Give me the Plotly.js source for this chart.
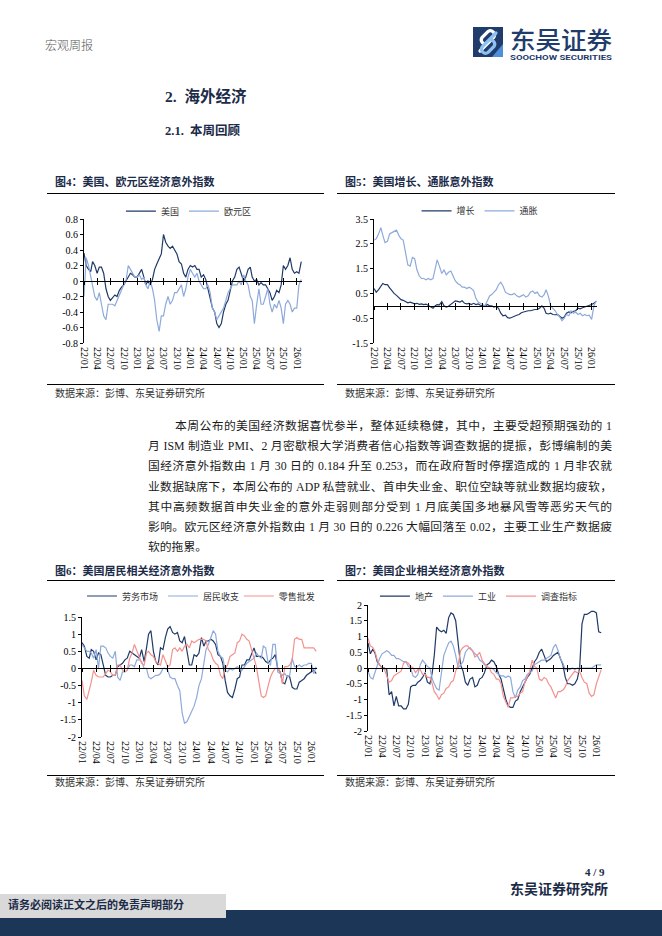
<!DOCTYPE html>
<html><head><meta charset="utf-8">
<script src="https://cdn.plot.ly/plotly-3.0.1.min.js"></script>
<style>
html,body{margin:0;padding:0;background:#fff;}
body{width:662px;height:936px;position:relative;overflow:hidden;font-family:"Liberation Serif","Noto Sans CJK SC",serif;color:#222;}
.t{position:absolute;white-space:nowrap;line-height:1;}
.cjk{font-family:"Liberation Serif","Noto Sans CJK SC",sans-serif;}
.hl{position:absolute;height:1px;background:#000;}
.chart{position:absolute;}
.para{position:absolute;white-space:nowrap;line-height:1;font-size:11.8px;text-align:justify;text-align-last:justify;color:#1a1a1a;font-family:"Liberation Serif","Noto Sans CJK SC",serif;}
</style></head><body>

<!-- header -->
<div class="t" style="left:45px;top:39px;font-size:12px;color:#555;font-family:'Noto Sans CJK SC';font-weight:300;">宏观周报</div>
<svg style="position:absolute;left:470px;top:22px" width="150" height="42" viewBox="0 0 150 42">
  <rect x="3" y="5" width="30" height="30" fill="#1f3c6d"/>
  <path d="M33 5 L33 35 L22 35 L33 22 Z" fill="#4f8fd8"/>
  <path d="M10 29 L20 19 M16 23 L24 15 A4.2 4.2 0 0 0 18 9.5 L12 15.5 A4.2 4.2 0 0 0 17.5 21.5" stroke="#fff" stroke-width="3.2" fill="none" stroke-linecap="round"/>
  <path d="M26 11 L16 21 M20 17 L12 25 A4.2 4.2 0 0 0 18 30.5 L24 24.5 A4.2 4.2 0 0 0 18.5 18.5" stroke="#8fc1f0" stroke-width="3.2" fill="none" stroke-linecap="round"/>
  <text x="40" y="26.5" font-size="24" textLength="102" lengthAdjust="spacingAndGlyphs" fill="#1f3c6d" font-family="Noto Sans CJK SC" font-weight="500">东吴证券</text>
  <text x="40" y="38" font-size="7" textLength="102" lengthAdjust="spacingAndGlyphs" fill="#1f3c6d" font-family="Roboto" font-weight="bold">SOOCHOW SECURITIES</text>
</svg>

<!-- section headings -->
<div class="t cjk" style="left:165px;top:89px;font-size:15.5px;font-weight:bold;color:#1b2b48;">2.&nbsp;&nbsp;海外经济</div>
<div class="t cjk" style="left:165px;top:125px;font-size:12.5px;font-weight:bold;color:#1b2b48;">2.1.&nbsp;&nbsp;本周回顾</div>

<!-- figure 4 / 5 titles -->
<div class="t cjk" style="left:55px;top:177px;font-size:11px;font-weight:bold;color:#1b2b48;">图4：美国、欧元区经济意外指数</div>
<div class="t cjk" style="left:345px;top:177px;font-size:11px;font-weight:bold;color:#1b2b48;">图5：美国增长、通胀意外指数</div>
<div class="hl" style="left:47px;top:193px;width:277px;"></div>
<div class="hl" style="left:337px;top:193px;width:278px;"></div>

<div id="c1" class="chart" style="left:45px;top:198px;"></div>
<div id="c2" class="chart" style="left:335px;top:198px;"></div>

<div class="hl" style="left:47px;top:384px;width:277px;"></div>
<div class="hl" style="left:337px;top:384px;width:278px;"></div>
<div class="t cjk" style="left:55px;top:389px;font-size:10px;color:#333;">数据来源：彭博、东吴证券研究所</div>
<div class="t cjk" style="left:345px;top:389px;font-size:10px;color:#333;">数据来源：彭博、东吴证券研究所</div>

<!-- paragraph -->
<div class="para" style="left:175px;top:421px;width:437px;">本周公布的美国经济数据喜忧参半，整体延续稳健，其中，主要受超预期强劲的 1</div>
<div class="para" style="left:148px;top:441px;width:464px;">月 ISM 制造业 PMI、2 月密歇根大学消费者信心指数等调查数据的提振，彭博编制的美</div>
<div class="para" style="left:148px;top:461px;width:464px;">国经济意外指数由 1 月 30 日的 0.184 升至 0.253，而在政府暂时停摆造成的 1 月非农就</div>
<div class="para" style="left:148px;top:482px;width:464px;">业数据缺席下，本周公布的 ADP 私营就业、首申失业金、职位空缺等就业数据均疲软，</div>
<div class="para" style="left:148px;top:502px;width:464px;">其中高频数据首申失业金的意外走弱则部分受到 1 月底美国多地暴风雪等恶劣天气的</div>
<div class="para" style="left:148px;top:522px;width:464px;">影响。欧元区经济意外指数由 1 月 30 日的 0.226 大幅回落至 0.02，主要工业生产数据疲</div>
<div class="para" style="left:148px;top:542px;text-align:left;text-align-last:left;">软的拖累。</div>

<!-- figure 6 / 7 -->
<div class="t cjk" style="left:55px;top:566px;font-size:11px;font-weight:bold;color:#1b2b48;">图6：美国居民相关经济意外指数</div>
<div class="t cjk" style="left:345px;top:566px;font-size:11px;font-weight:bold;color:#1b2b48;">图7：美国企业相关经济意外指数</div>
<div class="hl" style="left:47px;top:580px;width:277px;"></div>
<div class="hl" style="left:337px;top:580px;width:278px;"></div>

<div id="c3" class="chart" style="left:45px;top:585px;"></div>
<div id="c4" class="chart" style="left:335px;top:585px;"></div>

<div class="hl" style="left:47px;top:775px;width:277px;"></div>
<div class="hl" style="left:337px;top:775px;width:278px;"></div>
<div class="t cjk" style="left:55px;top:778px;font-size:10px;color:#333;">数据来源：彭博、东吴证券研究所</div>
<div class="t cjk" style="left:345px;top:778px;font-size:10px;color:#333;">数据来源：彭博、东吴证券研究所</div>

<!-- footer -->
<div class="t" style="left:585px;top:867px;font-size:11px;font-weight:bold;color:#1b2b48;font-family:'Liberation Serif';">4 / 9</div>
<div class="t cjk" style="left:510px;top:883px;font-size:14px;font-weight:bold;color:#1b2b48;">东吴证券研究所</div>
<div style="position:absolute;left:0;top:910px;width:662px;height:26px;background:#1c3658;"></div>
<div style="position:absolute;left:0;top:894px;width:226px;height:24px;background:#d9d9d9;"></div>
<div class="t cjk" style="left:8px;top:900px;font-size:11px;font-weight:bold;color:#1b2b48;">请务必阅读正文之后的免责声明部分</div>

<script>
// ---------- data (semi-monthly readings, 2022-01 .. 2026-02) ----------
const dates = [];
for (let i = 0; i < 99; i++) {
  const m = Math.floor(i / 2);
  const y = 2022 + Math.floor(m / 12);
  const mo = String(m % 12 + 1).padStart(2, '0');
  dates.push(y + '-' + mo + '-' + (i % 2 ? '16' : '01'));
}

// Fig 4
const usSurprise = [0.36,0.2,0.15,0.12,0.25,0.2,0.1,0.18,0.18,0.1,
-0.1,-0.2,-0.25,-0.22,-0.18,-0.2,-0.12,-0.08,-0.05,0.0,
0.05,0.1,0.08,0.05,0.05,0.1,0.15,0.05,-0.05,0.0,
-0.05,0.02,0.15,0.22,0.3,0.35,0.6,0.5,0.45,0.42,
0.45,0.4,0.35,0.25,0.22,0.1,0.05,0.15,0.2,0.18,
0.2,0.15,0.15,0.05,0.08,0.02,-0.1,-0.2,-0.35,-0.4,
-0.55,-0.6,-0.55,-0.4,-0.3,-0.25,-0.12,0.0,0.05,0.15,
0.18,0.08,0.0,0.05,0.15,0.18,0.05,0.0,0.02,-0.05,
-0.02,-0.05,-0.05,-0.1,-0.15,-0.25,-0.2,-0.12,-0.15,-0.05,
0.2,0.15,0.2,0.3,0.15,0.1,0.12,0.1,0.25];
const euSurprise = [-0.2,0.3,0.2,0.05,-0.1,-0.2,-0.25,-0.15,-0.3,-0.45,
-0.5,-0.3,-0.3,-0.3,-0.32,-0.25,-0.2,-0.12,-0.05,0.0,
0.2,0.15,0.1,0.05,0.05,0.08,0.02,0.05,-0.05,-0.1,
0.0,-0.1,-0.25,-0.5,-0.65,-0.45,-0.45,-0.3,-0.2,-0.3,
-0.25,-0.15,-0.15,-0.1,-0.05,-0.2,-0.1,0.05,0.15,0.1,
0.05,0.1,0.0,-0.05,-0.1,-0.1,-0.05,-0.15,-0.35,-0.4,
-0.5,-0.45,-0.4,-0.35,-0.25,-0.15,-0.1,-0.05,-0.05,-0.05,
0.0,-0.05,0.08,0.0,-0.05,-0.2,-0.25,-0.55,-0.3,-0.1,
-0.3,-0.3,-0.2,-0.1,-0.3,-0.4,-0.3,-0.35,-0.25,-0.35,
-0.55,-0.3,-0.25,-0.3,-0.4,-0.35,-0.35,-0.05,0.02];

// Fig 5
const growthSurprise = [0.7,0.55,0.65,0.8,0.9,0.85,0.85,0.72,0.6,0.5,
0.42,0.32,0.25,0.22,0.15,0.12,0.15,0.1,0.08,0.1,
0.06,0.08,0.05,0.07,0.02,-0.05,-0.1,0.0,0.05,0.04,
0.17,0.0,-0.05,-0.02,0.05,0.15,0.2,0.18,0.15,0.2,
0.1,0.08,0.1,0.05,0.1,0.05,0.08,0.02,0.0,-0.02,
0.05,0.0,0.0,-0.05,-0.02,-0.1,-0.3,-0.4,-0.38,-0.48,
-0.5,-0.45,-0.4,-0.38,-0.35,-0.28,-0.25,-0.22,-0.2,-0.2,
-0.16,-0.15,-0.15,-0.1,0.0,-0.1,-0.3,-0.33,-0.3,-0.35,
-0.36,-0.35,-0.42,-0.5,-0.45,-0.3,-0.25,-0.28,-0.22,-0.2,
-0.1,-0.12,-0.08,-0.05,-0.02,0.0,0.05,0.1,0.18];
const inflationSurprise = [2.65,2.7,2.9,3.15,2.85,2.55,2.6,2.9,2.95,3.0,
3.05,2.85,2.7,2.65,2.2,1.65,1.6,1.95,1.9,1.45,
1.2,1.1,1.1,1.05,1.1,1.05,1.1,1.5,1.85,1.6,
1.3,1.45,1.25,1.35,1.4,1.2,1.0,0.9,0.85,0.75,
0.75,0.7,0.75,0.7,0.6,0.3,0.15,0.1,0.05,0.0,
0.2,0.4,0.45,0.55,0.65,0.85,0.95,0.8,0.55,0.5,
0.45,0.45,0.5,0.4,0.35,0.4,0.45,0.35,0.4,0.55,
0.6,0.5,0.55,0.4,0.35,0.45,0.65,0.4,0.0,-0.1,
-0.2,-0.35,-0.45,-0.6,-0.5,-0.35,-0.4,-0.2,-0.3,-0.25,
-0.35,-0.3,-0.4,-0.35,-0.4,-0.38,-0.55,0.0,0.2];

// Fig 6
const laborMarket = [0.75,0.65,0.35,0.3,0.55,0.5,0.25,0.45,0.4,0.1,
-0.2,-0.25,-0.25,-0.2,-0.2,0.05,0.1,0.15,0.25,0.3,
0.5,0.45,0.4,0.35,0.3,0.55,0.2,0.6,1.0,1.1,
0.5,0.2,0.1,0.6,0.55,0.9,1.15,1.22,1.05,1.0,
1.05,0.8,0.75,0.93,0.5,0.1,0.1,0.4,0.35,0.45,
0.9,0.65,0.8,0.8,0.85,0.8,0.7,0.4,0.35,0.15,
-0.35,-0.7,-0.8,-0.85,-0.6,-0.3,-0.25,0.1,0.1,0.25,
0.25,0.4,0.6,0.35,0.35,0.35,0.3,0.2,0.15,0.25,
0.3,0.4,0.0,-0.1,-0.4,-0.45,-0.22,-0.25,-0.55,-0.6,
-0.6,-0.4,-0.35,-0.3,-0.2,-0.15,-0.1,-0.05,-0.15];
const householdIncome = [0.7,0.6,0.5,0.5,0.45,0.3,0.55,0.0,0.65,0.65,
0.6,0.45,0.35,0.3,0.5,-0.25,-0.35,-0.1,-0.1,-0.05,
0.1,0.1,0.05,0.25,0.25,0.2,0.0,0.0,-0.25,-0.3,
-0.25,-0.2,-0.2,-0.15,0.0,0.0,-0.05,-0.25,-0.3,-0.3,
-0.5,-0.65,-1.3,-1.6,-1.55,-1.4,-1.2,-1.1,-0.85,-0.5,
-0.3,0.1,0.55,0.7,0.9,1.1,1.0,0.5,0.35,0.3,
-0.05,-0.1,0.0,-0.05,0.0,0.05,0.0,-0.05,0.05,0.15,
0.2,0.25,0.3,0.45,0.35,0.3,0.65,0.6,0.15,0.1,
0.7,0.7,-0.1,-0.15,-0.2,-0.15,-0.25,-0.2,0.3,0.05,
0.05,0.1,0.05,0.1,0.1,0.15,0.15,-0.15,0.05];
const retailWholesale = [-0.35,-0.8,-0.9,-0.65,-0.4,-0.05,-0.2,-0.25,-0.25,-0.25,
-0.15,-0.05,-0.1,-0.2,-0.2,0.1,0.1,-0.05,-0.1,-0.05,
0.3,0.45,0.7,0.5,0.3,0.15,0.1,0.45,0.5,0.4,
0.35,0.2,0.15,0.1,0.4,0.2,0.05,0.1,0.55,0.6,
0.5,0.6,0.5,0.65,0.7,0.6,0.8,0.75,0.8,0.85,
0.85,0.85,0.8,0.55,0.45,0.25,0.15,0.1,-0.2,-0.3,
0.0,0.1,0.35,0.4,0.45,0.75,0.8,1.0,0.95,0.85,
0.8,0.55,0.3,0.05,-0.4,-0.8,-0.85,-0.8,-0.5,-0.25,
-0.1,0.0,0.0,-0.1,-0.45,0.05,0.05,0.1,0.25,0.85,
0.9,0.85,0.85,0.6,0.6,0.6,0.6,0.6,0.5];

// Fig 7
const housing = [0.8,0.45,0.6,0.45,0.2,0.1,0.0,0.0,-0.05,-0.85,
-0.75,-1.2,-0.9,-1.2,-1.2,-1.3,-1.3,-1.15,-0.6,-0.55,
-0.55,-0.45,-0.4,-0.3,-0.15,-0.45,-0.5,-0.15,0.4,1.3,
1.2,1.15,1.2,1.1,1.6,1.75,1.7,1.5,0.8,0.1,
-0.1,-0.45,-0.55,-0.35,-0.3,-0.6,-0.55,-0.35,-0.3,-0.15,
0.1,0.15,0.25,0.2,0.05,-0.2,-0.35,-0.7,-1.0,-1.2,
-1.25,-1.25,-1.05,-1.0,-0.75,-0.6,-0.45,-0.3,-0.2,0.0,
0.2,0.3,0.5,0.6,0.4,0.2,0.25,0.3,0.4,0.45,
0.5,0.3,0.1,-0.3,-0.5,-0.5,-0.55,-0.5,-0.35,0.0,
1.4,1.7,1.7,1.75,1.8,1.8,1.75,1.15,1.12];
const industry = [-0.1,-0.3,-0.35,-0.1,0.1,0.3,0.45,0.5,0.55,0.5,
0.4,0.4,0.3,0.3,0.25,0.2,0.2,0.05,0.0,-0.25,
-0.3,-0.2,0.1,0.25,0.15,0.05,0.0,-0.35,-0.5,-0.65,
-0.7,-0.2,0.4,0.6,0.8,0.85,0.7,0.4,0.0,0.1,
0.2,0.5,0.6,0.65,0.55,0.45,0.4,0.25,0.2,0.1,
0.05,0.0,0.0,-0.05,-0.15,-0.2,-0.25,-0.25,-0.3,-0.25,
-0.3,-0.75,-0.95,-0.7,-0.6,-0.4,-0.35,-0.2,-0.15,-0.1,
0.1,0.15,0.2,0.25,0.25,0.3,0.35,0.4,0.65,0.75,
0.55,0.3,0.15,-0.05,-0.05,-0.05,0.0,-0.05,0.0,0.0,
0.0,0.0,0.0,0.0,0.0,0.05,0.1,0.1,0.1];
const surveyIndex = [0.95,0.7,0.65,0.5,0.25,0.1,0.0,-0.05,-0.25,-0.45,
-0.4,-0.25,-0.2,-0.15,-0.1,0.15,0.2,0.15,0.05,0.0,
-0.15,-0.05,-0.05,-0.2,-0.2,-0.3,-0.3,-0.5,-0.75,-0.85,
-1.0,-0.85,-0.8,-0.65,-0.6,-0.45,-0.4,-0.1,0.1,0.55,
0.65,0.7,0.7,0.6,0.55,0.35,0.4,0.5,0.25,0.15,
0.05,0.0,-0.15,-0.2,-0.35,-0.35,-0.5,-0.9,-1.1,-1.25,
-0.95,-0.95,-0.9,-0.9,-0.8,-0.75,-0.45,-0.3,-0.1,0.25,
0.05,0.0,-0.35,-0.4,-0.3,-0.35,-0.5,-0.6,-0.8,-0.95,
-0.75,-0.75,-0.7,-0.6,-0.4,-0.3,-0.2,-0.1,-0.15,-0.1,
-0.3,-0.45,-0.5,-0.8,-0.9,-0.85,-0.5,-0.3,-0.05];

// tick labels
const yTicks4 = [-0.8,-0.6,-0.4,-0.2,0,0.2,0.4,0.6,0.8];
const yTicks5 = [-1.5,-0.5,0.5,1.5,2.5,3.5];
const yTicks6 = [-2,-1.5,-1,-0.5,0,0.5,1,1.5];
const yTicks7 = [-2,-1.5,-1,-0.5,0,0.5,1,1.5,2];

// ---------- styling ----------
const DARK = '#203a68', LIGHT = '#8eaadb', PINK = '#f4928f';
const SERIF = 'Liberation Serif, Times New Roman, serif';
const CJK = 'Noto Sans CJK SC, sans-serif';
const X_START = '2022-01-01', X_END = '2026-02-06';

function legendBox(x, xanchor, y) {
  return {orientation: 'h', xref: 'container', x: x, xanchor: xanchor, y: y, yanchor: 'middle',
    font: {family: CJK, size: 9, color: '#333'}, bgcolor: 'rgba(0,0,0,0)', itemwidth: 30};
}

function draw(id, w, h, margin, yRange, yTicks, legends, series) {
  const traces = series.map(s => ({
    x: dates, y: s.y, name: s.name, type: 'scatter', mode: 'lines', legend: s.legend || 'legend',
    line: {color: s.color, width: 1.2}, hoverinfo: 'skip'
  }));
  traces.push({x: [dates[0]], y: [null], xaxis: 'x2', showlegend: false, hoverinfo: 'skip', mode: 'lines'});
  traces.push({x: [dates[0]], y: [null], xaxis: 'x3', showlegend: false, hoverinfo: 'skip', mode: 'lines'});
  const zeroPos = (0 - yRange[0]) / (yRange[1] - yRange[0]);
  const tickAxis = (dir) => ({
    type: 'date', range: [X_START, X_END], overlaying: 'x', anchor: 'free', position: zeroPos,
    tick0: X_START, dtick: 'M3', showticklabels: false, showgrid: false, zeroline: false,
    showline: true, linecolor: '#000', linewidth: 1, ticks: dir, ticklen: 3, tickcolor: '#000', tickwidth: 1
  });
  const layout = Object.assign({
    width: w, height: h, margin: Object.assign({pad: 0, autoexpand: false}, margin),
    paper_bgcolor: 'rgba(0,0,0,0)', plot_bgcolor: 'rgba(0,0,0,0)',
    showlegend: true,
    xaxis: {type: 'date', range: [X_START, X_END], tick0: X_START, dtick: 'M3', tickformat: '%y/%m',
      tickangle: 90, showgrid: false, zeroline: false, showline: false, ticks: '', ticklabelstandoff: 3,
      tickfont: {family: SERIF, size: 10, color: '#000'}},
    xaxis2: tickAxis('outside'),
    xaxis3: tickAxis('inside'),
    yaxis: {range: yRange, tickvals: yTicks, ticktext: yTicks.map(v => String(v)),
      showgrid: false, zeroline: false, showline: true, linecolor: '#000', linewidth: 1,
      ticks: 'outside', ticklen: 3, tickcolor: '#000', tickfont: {family: SERIF, size: 10, color: '#000'}}
  }, legends);
  Plotly.newPlot(id, traces, layout, {staticPlot: true, displayModeBar: false});
}

draw('c1', 285, 182, {l: 39, r: 28, t: 21, b: 37}, [-0.8, 0.8], yTicks4,
  {legend: legendBox(0.505, 'center', 1.064)}, [
  {name: '美国', y: usSurprise, color: DARK},
  {name: '欧元区', y: euSurprise, color: LIGHT}
]);
draw('c2', 285, 182, {l: 39, r: 23, t: 21, b: 37}, [-1.5, 3.5], yTicks5,
  {legend: legendBox(0.509, 'center', 1.065)}, [
  {name: '增长', y: growthSurprise, color: DARK},
  {name: '通胀', y: inflationSurprise, color: LIGHT}
]);
draw('c3', 285, 190, {l: 37, r: 13, t: 32, b: 38}, [-2, 1.5], yTicks6,
  {legend: legendBox(0.13, 'left', 1.175), legend2: legendBox(0.68, 'left', 1.175)}, [
  {name: '劳务市场', y: laborMarket, color: DARK},
  {name: '居民收支', y: householdIncome, color: LIGHT},
  {name: '零售批发', y: retailWholesale, color: PINK, legend: 'legend2'}
]);
draw('c4', 285, 190, {l: 33, r: 18, t: 20, b: 44}, [-2, 2], yTicks7,
  {legend: legendBox(0.505, 'center', 1.07)}, [
  {name: '地产', y: housing, color: DARK},
  {name: '工业', y: industry, color: LIGHT},
  {name: '调查指标', y: surveyIndex, color: PINK}
]);
</script>
</body></html>
